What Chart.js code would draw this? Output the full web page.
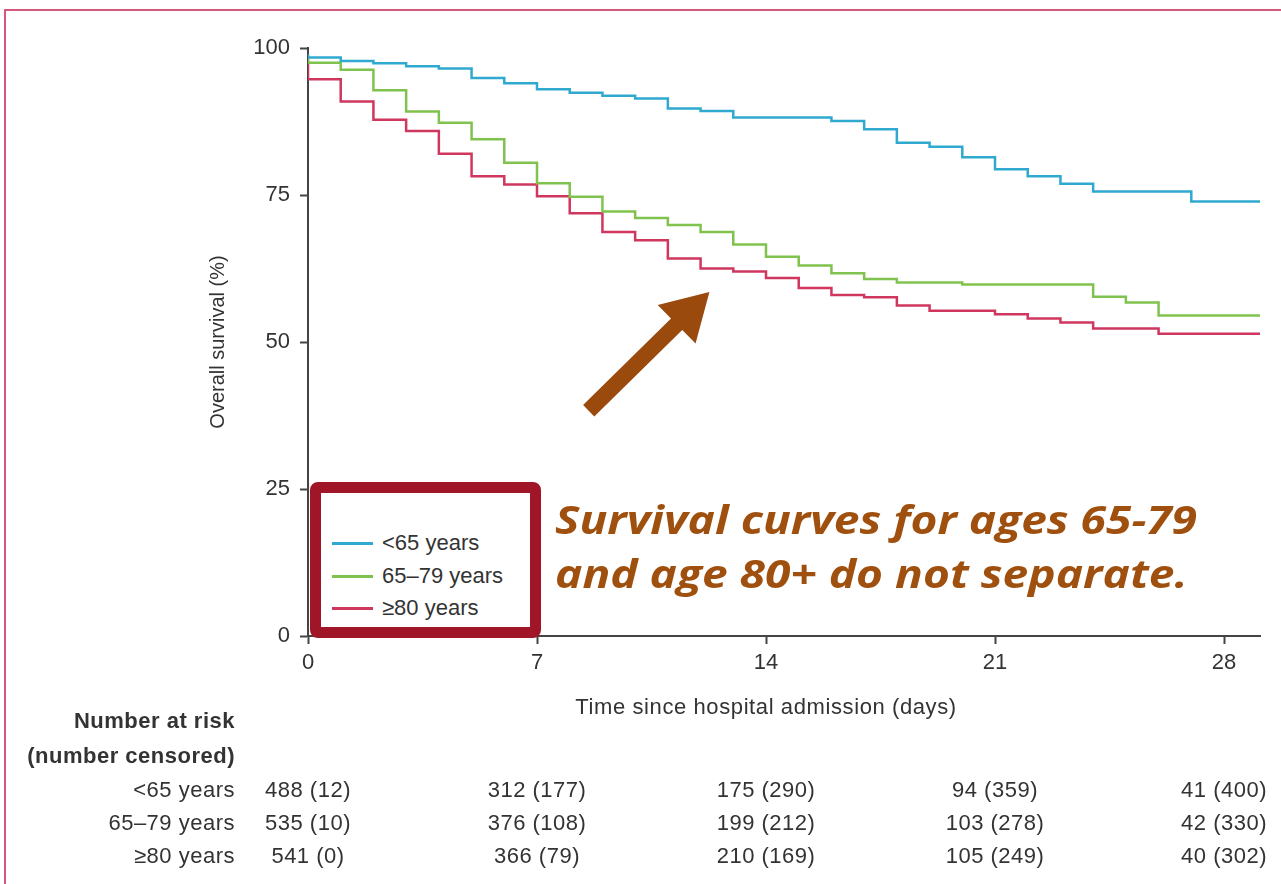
<!DOCTYPE html>
<html>
<head>
<meta charset="utf-8">
<script src="https://cdn.jsdelivr.net/npm/chart.js@4.4.1/dist/chart.umd.min.js"></script>
<style>
  body { margin: 0; background: #fff; }
  #wrap { position: relative; width: 1281px; height: 884px; overflow: hidden; background: #fff; }
  #frame { position: absolute; left: 4px; top: 9px; width: 1400px; height: 1000px; border-top: 2px solid #d4587c; border-left: 2px solid #d4587c; }
  #chart { position: absolute; left: 0; top: 0; }
  #legendBox { position: absolute; left: 310px; top: 482px; width: 231px; height: 156px; border: 11px solid #a11529; border-radius: 8px; box-sizing: border-box; background: #fff; }
  .item { position: absolute; left: 11px; height: 24px; font: 22px "Liberation Sans", Arial, sans-serif; color: #333; white-space: nowrap; }
  .item span.swatch { position: absolute; left: 0; top: 11px; width: 41px; height: 3px; }
  .item span.txt { position: absolute; left: 50px; top: 0; line-height: 24px; }
  #note { position: absolute; left: 555px; top: 492px; font: italic bold 40px "Open Sans", sans-serif; color: #a0500e; line-height: 54px; white-space: nowrap; transform-origin: 0 0; }
  #note span { display: inline-block; }
</style>
</head>
<body>
<div id="wrap">
  <div id="frame"></div>
  <canvas id="chart" width="1281" height="884"></canvas>
  <div id="legendBox"></div>
  <div id="note"><span id="noteLine1">Survival curves for ages 65-79</span><br><span>and age 80+ do not separate.</span></div>
</div>
<script>
// days since admission, one value per day (step curves)
const days = [0, 1, 2, 3, 4, 5, 6, 7, 8, 9, 10, 11, 12, 13, 14, 15, 16, 17, 18, 19, 20, 21, 22, 23, 24, 25, 26, 27, 28];
const xEnd = 29.1;

const under65 = [99.0, 98.4, 97.8, 97.4, 96.9, 96.5, 94.9, 94.0, 93.0, 92.4, 91.9, 91.4, 89.7, 89.3, 88.2, 88.2, 88.2, 87.6, 86.2, 83.9, 83.2, 81.4, 79.4, 78.2, 76.9, 75.6, 75.6, 75.6, 73.9];
const age65to79 = [98.8, 97.5, 96.3, 92.8, 89.2, 87.3, 84.5, 80.5, 77.0, 74.7, 72.2, 71.1, 69.9, 68.7, 66.6, 64.5, 63.0, 61.7, 60.7, 60.1, 60.1, 59.8, 59.8, 59.8, 59.8, 57.7, 56.7, 54.5, 54.5];
const age80plus = [98.2, 94.7, 90.9, 87.8, 85.9, 82.0, 78.2, 76.8, 74.8, 71.9, 68.7, 67.3, 64.2, 62.5, 62.0, 60.9, 59.2, 58.0, 57.6, 56.2, 55.3, 55.3, 54.7, 54.0, 53.3, 52.3, 52.3, 51.4, 51.4];

const groupLabels = ["<65 years", "65–79 years", "≥80 years"];
const groupColors = ["#2fa9cf", "#80c24e", "#d0375f"];

const xTicks = [0, 7, 14, 21, 28];
const yTicks = [0, 25, 50, 75, 100];

// number at risk (number censored) at each x tick
const atRiskUnder65 = [488, 312, 175, 94, 41];
const censUnder65 = [12, 177, 290, 359, 400];
const atRisk65to79 = [535, 376, 199, 103, 42];
const cens65to79 = [10, 108, 212, 278, 330];
const atRisk80plus = [541, 366, 210, 105, 40];
const cens80plus = [0, 79, 169, 249, 302];

// arrow annotation, in data units
const arrowFrom = { x: 8.58, y: 38.3 };
const arrowTo = { x: 12.27, y: 58.5 };

const FONT = '"Liberation Sans", Arial, sans-serif';

function toPoints(vals) {
  const pts = days.map((d, i) => ({ x: d, y: vals[i] }));
  pts.push({ x: xEnd, y: vals[vals.length - 1] });
  return pts;
}

// legend box (html)
const legendBox = document.getElementById("legendBox");
const rowTops = [38, 71, 103];
groupLabels.forEach((lab, i) => {
  const div = document.createElement("div");
  div.className = "item";
  div.style.top = rowTops[i] + "px";
  div.innerHTML = '<span class="swatch" style="background:' + groupColors[i] + '"></span><span class="txt"></span>';
  div.querySelector(".txt").textContent = lab;
  legendBox.appendChild(div);
});

// stretch the note so it spans the same width as the original
const note = document.getElementById("note");
const w1 = document.getElementById("noteLine1").getBoundingClientRect().width;
note.style.transform = "scaleX(" + (642 / w1) + ")";

const extras = {
  id: "extras",
  afterDraw(chart) {
    const ctx = chart.ctx;
    const xs = chart.scales.x;
    const ys = chart.scales.y;
    ctx.save();

    // x axis title
    ctx.fillStyle = "#333";
    ctx.font = "22px " + FONT;
    ctx.letterSpacing = "0.6px";
    ctx.textAlign = "center";
    ctx.textBaseline = "middle";
    ctx.fillText("Time since hospital admission (days)", xs.getPixelForValue(14), 708);

    // risk table
    ctx.textAlign = "right";
    ctx.font = "bold 22px " + FONT;
    ctx.letterSpacing = "0.5px";
    ctx.fillText("Number at risk", 235, 722);
    ctx.fillText("(number censored)", 235, 757);
    const rows = [[atRiskUnder65, censUnder65], [atRisk65to79, cens65to79], [atRisk80plus, cens80plus]];
    const rowY = [791, 824, 857];
    ctx.font = "22px " + FONT;
    rows.forEach((r, i) => {
      ctx.textAlign = "right";
      ctx.fillText(groupLabels[i], 235, rowY[i]);
      ctx.textAlign = "center";
      xTicks.forEach((t, j) => {
        ctx.fillText(r[0][j] + " (" + r[1][j] + ")", xs.getPixelForValue(t), rowY[i]);
      });
    });
    ctx.letterSpacing = "0px";

    // arrow
    const x0 = xs.getPixelForValue(arrowFrom.x), y0 = ys.getPixelForValue(arrowFrom.y);
    const x1 = xs.getPixelForValue(arrowTo.x), y1 = ys.getPixelForValue(arrowTo.y);
    const len = Math.hypot(x1 - x0, y1 - y0);
    const ux = (x1 - x0) / len, uy = (y1 - y0) / len;
    const nx = -uy, ny = ux;
    const headLen = 46, headW = 27, shaftW = 8;
    const bx = x1 - ux * headLen, by = y1 - uy * headLen;
    ctx.fillStyle = "#9a4a0c";
    ctx.beginPath();
    ctx.moveTo(x0 + nx * shaftW, y0 + ny * shaftW);
    ctx.lineTo(bx + nx * shaftW, by + ny * shaftW);
    ctx.lineTo(bx + nx * headW, by + ny * headW);
    ctx.lineTo(x1, y1);
    ctx.lineTo(bx - nx * headW, by - ny * headW);
    ctx.lineTo(bx - nx * shaftW, by - ny * shaftW);
    ctx.lineTo(x0 - nx * shaftW, y0 - ny * shaftW);
    ctx.closePath();
    ctx.fill();
    ctx.restore();
  }
};

new Chart(document.getElementById("chart"), {
  type: "line",
  data: {
    datasets: [under65, age65to79, age80plus].map((vals, i) => ({
      label: groupLabels[i],
      data: toPoints(vals),
      borderColor: groupColors[i],
      borderWidth: 2.5,
      pointRadius: 0,
      stepped: "after",
      fill: false
    }))
  },
  options: {
    responsive: false,
    animation: false,
    layout: { padding: { left: 0, top: 48, right: 21, bottom: 0 } },
    plugins: { legend: { display: false }, tooltip: { enabled: false } },
    scales: {
      x: {
        type: "linear",
        min: 0,
        max: xEnd,
        afterBuildTicks: s => { s.ticks = xTicks.map(v => ({ value: v })); },
        afterFit: s => { s.height = 248; },
        grid: { drawOnChartArea: false, drawTicks: true, tickLength: 8, tickColor: "#444", tickWidth: 2 },
        border: { color: "#444", width: 2 },
        ticks: { color: "#333", padding: 6, font: { family: FONT, size: 22 } }
      },
      y: {
        min: 0,
        max: 100,
        afterBuildTicks: s => { s.ticks = yTicks.map(v => ({ value: v })); },
        afterFit: s => { s.width = 308; },
        grid: { drawOnChartArea: false, drawTicks: true, tickLength: 8, tickColor: "#444", tickWidth: 2 },
        border: { color: "#444", width: 2 },
        ticks: { color: "#333", padding: 10, font: { family: FONT, size: 22 } },
        title: { display: true, text: "Overall survival (%)", color: "#333", font: { family: FONT, size: 20 }, padding: { top: 206, bottom: 0 } }
      }
    }
  },
  plugins: [extras]
});
</script>
</body>
</html>
